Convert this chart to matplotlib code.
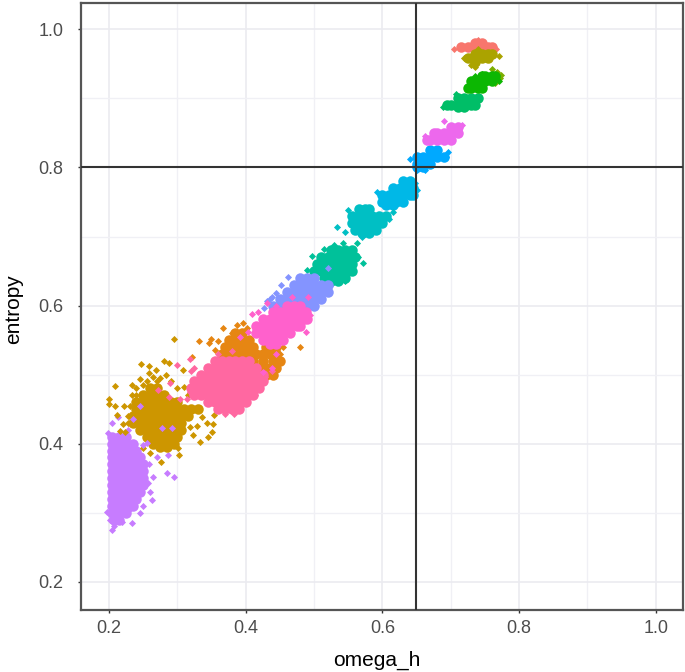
import numpy as np
import matplotlib
matplotlib.use("Agg")
import matplotlib.pyplot as plt

plt.rcParams['font.family'] = ['Liberation Sans', 'DejaVu Sans']

# values. dense parts are thinned out: (entropy, [omega_h, ...]) rows drawn with a bigger dot
purple_core = [(.41,[.205,.215,.225]),(.40,[.205,.215,.225,.235]),(.39,[.205,.215,.225,.235,.24]),
               (.38,[.205,.215,.225,.235,.245]),(.37,[.205,.215,.225,.235,.245,.25]),(.36,[.205,.215,.225,.235,.245,.25]),
               (.35,[.205,.215,.225,.235,.245,.25]),(.34,[.205,.215,.225,.235,.245,.25]),(.33,[.205,.215,.225,.235,.245]),
               (.32,[.205,.215,.225,.235,.24]),(.31,[.205,.215,.225,.235]),(.30,[.205,.215,.225]),(.29,[.208,.215])]
purple_pts = [(.219,.287),(.234,.285),(.204,.275),(.201,.29),(.197,.301),(.263,.319),(.285,.357),(.295,.352),
              (.286,.383),(.264,.351),(.257,.343),(.27,.381),(.204,.43),(.213,.438),(.198,.416),(.228,.42),
              (.207,.281),(.25,.31),(.245,.30),(.23,.305),(.258,.37),(.26,.33)]
purple_top = [(.245,.455),(.278,.423),(.292,.423),(.235,.436),(.256,.401),(.25,.398)]

gold_core = [(.48,[.26,.27]),(.47,[.25,.26,.27,.28]),(.46,[.24,.25,.26,.27,.28,.29,.30]),
             (.45,[.24,.25,.26,.27,.28,.29,.30,.31,.32,.33]),(.44,[.235,.245,.255,.265,.275,.285,.295,.305,.315]),
             (.43,[.235,.245,.255,.265,.275,.285,.295,.305]),(.42,[.245,.255,.265,.275,.285,.295,.305]),
             (.41,[.255,.265,.275,.285,.295,.30]),(.40,[.265,.275,.285,.295]),(.395,[.275,.285])]
gold_pts = [(.295,.551),(.247,.515),(.259,.512),(.28,.519),(.288,.517),(.269,.506),(.259,.503),(.284,.5),(.308,.507),
            (.209,.483),(.2,.464),(.2,.458),(.245,.493),(.233,.485),(.233,.471),(.222,.454),(.209,.454),(.211,.442),
            (.223,.417),(.216,.419),(.336,.439),(.343,.43),(.354,.442),(.352,.428),(.35,.417),(.345,.41),(.333,.403),
            (.323,.413),(.329,.425),(.318,.424),(.301,.394),(.303,.384),(.276,.374),(.26,.387),(.25,.394),(.24,.48),
            (.27,.49),(.255,.49),(.228,.44),(.235,.43),(.25,.485),(.275,.495),(.265,.497),(.29,.49),(.3,.48),(.24,.47),
            (.23,.455),(.228,.43),(.22,.428),(.315,.47),(.31,.482)]

orange_core = [(.56,[.385,.395]),(.55,[.375,.385,.395,.405]),(.54,[.37,.38,.39,.40,.41,.43,.44,.445]),
               (.53,[.365,.375,.385,.395,.405,.415,.425,.435,.445]),(.52,[.375,.39,.41,.425,.44,.45]),
               (.51,[.42,.43,.435,.445]),(.50,[.43,.44])]
orange_pts = [(.454,.54),(.479,.54),(.387,.572),(.396,.575),(.367,.567),(.349,.551),(.332,.548),(.346,.546),
              (.321,.526),(.45,.53),(.447,.518),(.38,.56),(.36,.548),(.402,.568),(.355,.535)]

rose_core = [(.52,[.355,.365,.375,.385,.395,.405]),(.51,[.345,.355,.365,.375,.385,.395,.405,.415]),
             (.50,[.335,.345,.355,.365,.375,.385,.395,.405,.415,.425]),
             (.49,[.325,.335,.345,.355,.365,.375,.385,.395,.405,.415,.425]),
             (.48,[.32,.33,.34,.35,.36,.37,.38,.39,.40,.41,.42]),
             (.47,[.325,.335,.345,.355,.365,.375,.385,.395,.405,.41]),
             (.46,[.345,.355,.365,.375,.385,.395,.40]),(.45,[.36,.37,.38,.39])]
rose_pts = [(.3,.514),(.318,.522),(.304,.464),(.314,.464),(.318,.475),(.428,.496),(.438,.505),(.411,.488),(.387,.457),
            (.289,.488),(.272,.478),(.288,.468),(.32,.505),(.325,.51),(.413,.47),(.38,.534),(.36,.53),(.37,.443),(.383,.443)]

pink_core = [(.60,[.46,.47,.48]),(.59,[.44,.45,.46,.47,.48,.488]),(.58,[.425,.435,.445,.455,.465,.475,.485,.49]),
             (.57,[.415,.425,.435,.445,.455,.465,.475,.48]),(.56,[.415,.425,.435,.445,.455,.465]),
             (.55,[.425,.435,.445,.455]),(.545,[.435,.445])]
pink_pts = [(.409,.588),(.418,.591),(.431,.603),(.468,.613),(.491,.613),(.488,.562),(.494,.587),(.392,.554),(.403,.561),
            (.438,.509),(.425,.504),(.445,.6),(.428,.58),(.48,.57),(.445,.53)]

periwinkle_core = [(.64,[.48,.49,.50]),(.63,[.47,.48,.49,.50,.51,.52]),(.62,[.46,.47,.48,.49,.50,.51,.52]),
                   (.61,[.45,.46,.47,.48,.49,.50,.51]),(.60,[.44,.45,.46,.47,.48,.49,.50]),(.595,[.45])]
periwinkle_pts = [(.462,.642),(.452,.63),(.438,.613),(.431,.606),(.427,.596),(.52,.655),(.523,.628),(.501,.599),(.444,.618),(.435,.61)]

green_core = [(.68,[.525,.535,.545,.555]),(.67,[.51,.52,.53,.54,.55,.56]),(.66,[.505,.515,.525,.535,.545,.555]),
              (.65,[.50,.51,.52,.53,.54,.55,.555]),(.64,[.515,.525,.535,.545]),(.635,[.525,.535])]
green_pts = [(.497,.672),(.563,.69),(.542,.691),(.572,.661),(.529,.687),(.564,.67),(.545,.635),(.49,.652),(.515,.682)]

teal_core = [(.74,[.565,.575,.58]),(.73,[.555,.565,.575,.585,.595,.605]),(.72,[.555,.565,.575,.585,.595,.60]),
             (.71,[.56,.57,.58,.59]),(.705,[.57,.58])]
teal_pts = [(.533,.714),(.545,.706),(.57,.70),(.615,.736),(.55,.738),(.61,.725)]

sky_core = [(.78,[.63,.64]),(.77,[.615,.625,.635,.645]),(.76,[.60,.61,.62,.63,.64,.645]),(.75,[.60,.61,.62,.63]),(.745,[.605,.615])]
sky_pts = [(.65,.767),(.648,.778),(.592,.764)]

blue_core = [(.825,[.67,.68]),(.815,[.65,.66,.67,.68,.69]),(.805,[.65,.66,.67]),(.80,[.65,.66])]
blue_pts = [(.662,.797),(.65,.796),(.696,.822),(.64,.812),(.693,.815)]

magenta_core = [(.858,[.70,.71]),(.85,[.675,.68,.69,.70,.71]),(.84,[.665,.67,.68,.69,.70])]
magenta_pts = [(.662,.845),(.716,.861),(.69,.867)]

jade_core = [(.90,[.71,.72,.73,.74]),(.89,[.695,.70,.71,.72,.73,.735]),(.887,[.71,.72])]
jade_pts = [(.688,.888),(.74,.902),(.707,.906)]

lime_pts = [(.768,.938),(.772,.93),(.76,.942),(.774,.934),(.765,.922)]
leaf_core = [(.933,[.745,.75,.76,.765]),(.925,[.73,.74,.75,.76]),(.915,[.725,.73,.74,.745])]
leaf_pts = [(.735,.932),(.745,.935),(.77,.925)]

red_core = [(.98,[.735,.745]),(.975,[.715,.725,.735,.745,.755,.76])]
red_pts = [(.74,.984),(.705,.971),(.766,.972)]

olive_core = [(.965,[.735,.745,.755,.76]),(.958,[.725,.735,.745,.755]),(.953,[.735])]
olive_pts = [(.73,.948),(.735,.946),(.77,.962),(.72,.958),(.74,.971)]

v_line = 0.649
h_line = 0.8
major_ticks = [0.2, 0.4, 0.6, 0.8, 1.0]
minor_ticks = [0.3, 0.5, 0.7, 0.9]

layers = [
    (purple_core, purple_pts, "#C77CFF"),
    (gold_core, gold_pts, "#CD9600"),
    ([], purple_top, "#C77CFF"),
    (red_core, red_pts, "#F8766D"),
    (olive_core, olive_pts, "#ABA300"),
    ([], lime_pts, "#7CAE00"),
    (jade_core, jade_pts, "#00BE67"),
    (leaf_core, leaf_pts, "#0CB702"),
    (green_core, green_pts, "#00C19A"),
    (sky_core, sky_pts, "#00B8E7"),
    (teal_core, teal_pts, "#00BFC4"),
    (blue_core, blue_pts, "#00A9FF"),
    (magenta_core, magenta_pts, "#ED68ED"),
    (periwinkle_core, periwinkle_pts, "#8494FF"),
    (orange_core, orange_pts, "#E68613"),
    (rose_core, rose_pts, "#FF68A1"),
    (pink_core, pink_pts, "#FF61CC"),
]

fig = plt.figure(figsize=(6.85, 6.72), dpi=100)
ax = fig.add_axes([81 / 685, 62 / 672, 601.5 / 685, 607.5 / 672])

for core, pts, color in layers:
    cx = [x for y, xs in core for x in xs]
    cy = [y for y, xs in core for x in xs]
    ax.scatter(cx, cy, s=57, color=color, marker='o', linewidths=0, zorder=3)
    p = np.array(pts)
    ax.scatter(p[:, 0], p[:, 1], s=13, color=color, marker='D', linewidths=0, zorder=3)

ax.axvline(v_line, color="#333333", lw=1.5, zorder=4)
ax.axhline(h_line, color="#333333", lw=1.5, zorder=4)

ax.set_xlim(0.159, 1.039)
ax.set_ylim(0.159, 1.039)
ax.set_xticks(major_ticks)
ax.set_yticks(major_ticks)
ax.set_xticks(minor_ticks, minor=True)
ax.set_yticks(minor_ticks, minor=True)
ax.grid(True, which='major', color="#EBEBF0", lw=1.2, zorder=0)
ax.grid(True, which='minor', color="#F0F0F5", lw=1.0, zorder=0)
ax.set_axisbelow(True)
ax.tick_params(which='minor', length=0)
ax.tick_params(axis='x', which='major', length=2.5, width=1, color="#333333", labelcolor="#4D4D4D", labelsize=13, pad=5)
ax.tick_params(axis='y', which='major', length=2.5, width=1, color="#333333", labelcolor="#4D4D4D", labelsize=13, pad=10)
for side in ax.spines:
    ax.spines[side].set_color("#555555")
    ax.spines[side].set_linewidth(1.6)
ax.set_xlabel("omega_h", fontsize=15)
ax.set_ylabel("entropy", fontsize=15)
ax.xaxis.set_label_coords(0.491, -0.067)
ax.yaxis.set_label_coords(-0.097, 0.495)

fig.savefig("out.png", dpi=100)
